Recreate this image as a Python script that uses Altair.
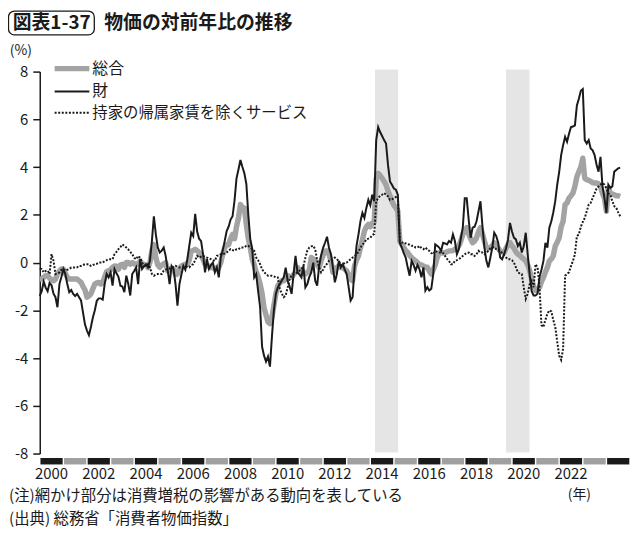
import altair as alt
import pandas as pd

FONT = "Noto Sans CJK JP"
BLACK = "#1a1a1a"
GRAY = "#a3a3a3"
BAR_GRAY = "#a0a0a0"
BAND = "#e5e5e5"

# ---- data (monthly y/y %, Jan 2000 - Aug 2024) ----
sogo = [  # 総合
    -0.69, -0.69, -0.62, -0.55, -0.55, -0.65, -0.72, -0.76, -0.70, -0.48, -0.35, -0.27,  # 2000
    -0.27, -0.45, -0.62, -0.69, -0.69, -0.69, -0.69, -0.69, -0.76, -0.83, -1.00, -1.15,  # 2001
    -1.45, -1.40, -1.31, -1.10, -0.90, -0.85, -0.83, -0.90, -0.85, -0.60, -0.38, -0.34,  # 2002
    -0.30, -0.20, -0.14, -0.15, -0.28, -0.10, -0.07, -0.20, 0.00, 0.00, -0.07, 0.00,     # 2003
    -0.05, -0.07, -0.07, 0.07, -0.07, -0.07, -0.10, -0.21, 0.00, 0.50, 0.75, 0.21,       # 2004
    -0.10, -0.20, -0.10, -0.05, 0.00, -0.35, -0.27, -0.27, -0.27, -0.50, -0.48, -0.27,   # 2005
    -0.14, -0.10, -0.07, -0.07, 0.10, 0.49, 0.50, 0.56, 0.50, 0.42, 0.30, 0.14,          # 2006
    -0.07, -0.14, -0.14, -0.21, -0.21, -0.27, -0.21, -0.21, 0.00, 0.35, 0.63, 0.75,      # 2007
    0.75, 1.00, 1.18, 1.00, 1.50, 1.87, 2.43, 2.30, 2.29, 1.60, 1.00, 0.63,              # 2008
    0.14, -0.10, -0.40, -0.60, -0.90, -1.30, -1.90, -2.20, -2.49, -2.56, -2.30, -1.80,   # 2009
    -1.31, -0.97, -0.85, -0.76, -0.76, -0.70, -0.55, -0.60, -0.62, -0.50, -0.41, -0.21,  # 2010
    -0.30, -0.41, -0.45, -0.48, -0.40, -0.34, 0.21, 0.15, 0.07, -0.10, -0.21, 0.07,      # 2011
    0.30, 0.49, 0.49, 0.35, 0.07, -0.41, -0.34, -0.20, -0.14, -0.21, -0.20, -0.28,       # 2012
    -0.35, -0.50, -0.70, -0.76, -0.14, 0.10, 0.28, 0.63, 0.95, 1.32, 1.50, 1.60,         # 2013
    1.50, 1.66, 1.70, 3.50, 3.74, 3.65, 3.53, 3.40, 3.26, 3.00, 2.80, 2.57,              # 2014
    2.40, 2.29, 2.15, 0.90, 0.75, 0.63, 0.50, 0.42, 0.30, 0.21, 0.14, 0.07,              # 2015
    0.00, -0.07, -0.10, -0.14, -0.20, -0.20, -0.35, -0.48, -0.30, -0.10, 0.21, 0.40,     # 2016
    0.42, 0.40, 0.42, 0.45, 0.49, 0.49, 0.50, 0.56, 0.60, 0.70, 0.90, 1.18,              # 2017
    1.35, 1.46, 1.20, 1.00, 0.83, 0.90, 1.04, 1.30, 1.46, 1.20, 0.90, 0.63,              # 2018
    0.60, 0.63, 0.70, 0.83, 0.70, 0.60, 0.49, 0.45, 0.42, 0.60, 0.75, 0.83,              # 2019
    0.70, 0.60, 0.45, 0.35, 0.30, 0.21, 0.15, 0.07, -0.10, -0.34, -0.70, -1.00,          # 2020
    -1.17, -1.15, -1.04, -0.80, -0.62, -0.40, -0.20, 0.07, 0.15, 0.28, 0.69, 0.85,       # 2021
    1.04, 1.50, 1.73, 2.43, 2.50, 2.70, 2.80, 2.91, 3.20, 3.60, 3.81, 4.00,              # 2022
    4.37, 3.53, 3.47, 3.45, 3.40, 3.35, 3.33, 3.33, 3.30, 3.19, 2.90, 2.70,              # 2023
    2.15, 3.12, 2.91, 2.87, 2.84, 2.80, 2.80, 2.77,                                      # 2024
]

zai = [  # 財
    -1.40, -1.20, -0.80, -1.05, -1.20, -0.85, -0.95, -1.30, -1.45, -1.87, -0.90, -0.60,  # 2000
    -0.27, -0.48, -0.90, -1.24, -1.15, -1.31, -1.40, -1.31, -1.45, -1.59, -2.10, -2.60,  # 2001
    -2.85, -3.04, -2.70, -2.30, -2.00, -1.60, -1.50, -1.50, -1.55, -0.90, -0.48, -0.62,  # 2002
    -0.41, -0.97, -0.27, -0.45, -0.60, -0.97, -1.00, -1.24, -0.55, -0.90, -1.38, -0.48,  # 2003
    -0.35, -0.20, -0.90, 0.14, -0.27, -0.15, -0.07, -0.20, 0.07, 0.90, 1.94, 1.18,       # 2004
    0.63, 0.42, 0.50, 0.63, 0.28, -0.30, -0.90, -0.14, -0.27, -0.90, -1.80, -0.90,       # 2005
    -0.50, -0.14, -0.30, 0.14, 0.70, 1.25, 1.11, 2.04, 1.30, 1.00, 0.90, 0.35,           # 2006
    -0.41, 0.14, -0.27, -0.10, 0.00, -0.41, -0.20, -0.62, 0.21, 0.50, 0.90, 1.32,        # 2007
    1.50, 1.80, 1.94, 2.60, 3.53, 3.90, 4.30, 4.00, 3.74, 3.30, 2.00, 0.97,              # 2008
    0.56, -0.62, -0.48, -1.20, -1.87, -3.53, -3.90, -4.15, -3.94, -4.36, -3.11, -2.00,   # 2009
    -1.30, -1.04, -0.90, -0.75, -0.62, -0.21, -0.76, -1.00, -1.31, -0.48, 0.28, -0.41,   # 2010
    -0.50, -0.62, -0.14, -1.04, -0.90, -0.60, -0.41, 0.00, -0.76, -0.97, -0.14, 0.30,    # 2011
    0.62, 0.83, 1.08, 0.62, 0.35, -0.20, -0.83, -0.48, 0.07, -0.20, -0.07, -0.30,        # 2012
    -0.48, -1.03, -1.59, -1.45, -0.20, 0.70, 1.18, 1.73, 2.08, 1.87, 2.29, 2.63,         # 2013
    2.40, 2.84, 2.57, 5.13, 5.68, 5.47, 5.30, 5.13, 4.99, 4.09, 3.40, 3.26,              # 2014
    3.10, 3.05, 2.84, 0.83, 0.63, 0.40, 0.21, -0.20, -0.55, 0.07, -0.10, -0.34,          # 2015
    -0.10, -0.28, -0.62, -0.20, -1.17, -1.03, -1.17, -1.10, -0.48, 0.76, 0.70, 0.63,     # 2016
    0.49, 0.83, 0.80, 0.76, 0.90, 0.83, 1.18, 0.90, 0.35, 0.56, 1.00, 1.46,              # 2017
    2.70, 2.70, 1.80, 1.04, 1.46, 1.50, 1.73, 2.15, 2.57, 1.53, 0.63, 0.07,              # 2018
    -0.20, 0.20, 0.63, 1.25, 1.11, 0.83, 0.21, 0.14, 0.35, 0.60, 0.97, 1.66,             # 2019
    1.30, 1.04, 0.97, 0.69, 0.83, 0.42, 0.69, 1.25, 0.35, -0.50, -1.20, -1.38,           # 2020
    -1.38, -1.30, -0.60, -0.30, 0.07, 0.83, 0.63, 1.46, 1.73, 2.10, 2.57, 3.26,          # 2021
    3.80, 4.50, 4.92, 5.27, 5.06, 5.40, 5.68, 5.70, 5.75, 6.58, 6.86, 7.20,              # 2022
    7.27, 5.13, 4.99, 5.13, 4.78, 4.70, 4.50, 4.10, 3.81, 4.43, 3.20, 2.70,              # 2023
    2.08, 3.26, 3.12, 3.19, 3.81, 3.88, 3.95, 3.98,                                      # 2024
]

svc = [  # 持家の帰属家賃を除くサービス
    -0.27, -0.27, -0.41, -0.35, -0.34, -0.48, 0.35, 0.07, -0.48, -0.45, -0.41, -0.30,    # 2000
    -0.27, -0.34, -0.30, -0.27, -0.21, -0.21, -0.21, -0.20, -0.14, -0.14, -0.10, -0.07,  # 2001
    -0.07, -0.07, -0.14, -0.10, -0.07, -0.05, 0.00, 0.00, 0.00, 0.07, 0.10, 0.14,        # 2002
    0.14, 0.14, 0.35, 0.45, 0.56, 0.65, 0.76, 0.70, 0.63, 0.55, 0.45, 0.35,              # 2003
    0.20, 0.14, 0.28, 0.20, 0.00, -0.14, -0.14, -0.07, -0.20, -0.48, -0.55, -0.50,       # 2004
    -0.48, -0.48, -0.48, -0.34, -0.30, -0.27, -0.25, -0.21, -0.18, -0.14, -0.18, -0.21,  # 2005
    -0.21, -0.21, -0.20, -0.18, -0.20, -0.10, -0.07, 0.10, 0.28, 0.21, 0.25, 0.28,       # 2006
    0.25, 0.21, 0.18, 0.14, 0.10, 0.07, 0.28, 0.30, 0.35, 0.35, 0.38, 0.42,              # 2007
    0.50, 0.56, 0.52, 0.49, 0.56, 0.56, 0.63, 0.63, 0.63, 0.70, 0.70, 0.63,              # 2008
    0.55, 0.49, 0.21, 0.10, -0.07, -0.28, -0.40, -0.48, -0.55, -0.55, -0.55, -0.58,      # 2009
    -0.62, -0.62, -1.10, -1.30, -1.45, -1.38, -1.04, -0.69, -0.55, -0.48, -0.45, -0.41,  # 2010
    -0.34, -0.28, -0.15, 0.20, 0.50, 0.63, 0.68, 0.70, 0.55, 0.10, -0.20, -0.41,         # 2011
    -0.30, -0.14, -0.05, 0.07, 0.10, 0.14, 0.21, 0.14, 0.07, -0.12, -0.10, 0.00,         # 2012
    0.00, 0.07, 0.14, 0.21, 0.25, 0.35, 0.45, 0.63, 0.75, 0.83, 0.97, 1.00,              # 2013
    1.04, 1.15, 1.20, 2.57, 2.70, 2.80, 2.84, 2.91, 2.85, 2.77, 2.63, 2.65,              # 2014
    2.70, 2.75, 2.77, 0.90, 0.83, 0.85, 0.80, 0.77, 0.75, 0.70, 0.70, 0.63,              # 2015
    0.63, 0.70, 0.60, 0.56, 0.63, 0.55, 0.49, 0.40, 0.35, 0.49, 0.45, 0.42,              # 2016
    0.42, 0.40, 0.28, 0.15, 0.07, -0.07, -0.07, 0.07, 0.10, 0.14, 0.21, 0.28,            # 2017
    0.35, 0.40, 0.42, 0.35, 0.35, 0.28, 0.35, 0.49, 0.42, 0.42, 0.35, 0.40,              # 2018
    0.50, 0.60, 0.63, 0.65, 0.56, 0.50, 0.49, 0.40, 0.30, 0.21, 0.14, 0.14,              # 2019
    0.10, 0.00, -0.20, -0.41, -0.45, -0.48, -1.04, -1.52, -1.30, -0.90, -0.76, -1.03,    # 2020
    -0.07, -0.20, -1.00, -2.63, -2.70, -2.40, -2.14, -2.00, -2.05, -2.40, -2.70, -3.30,  # 2021
    -3.90, -4.08, -3.60, -0.55, -0.48, -0.40, -0.15, 0.07, 0.35, 1.11, 1.18, 1.50,       # 2022
    1.70, 1.87, 2.15, 2.43, 2.50, 2.70, 2.90, 3.10, 3.19, 3.26, 3.33, 3.26,              # 2023
    3.10, 2.90, 2.84, 2.57, 2.36, 2.30, 2.10, 1.94,                                      # 2024
]

band_start = [2014.2, 2019.75]   # 消費増税の影響期間
band_end = [2015.18, 2020.74]
bar_years = list(range(2000, 2025))
label_years = list(range(2000, 2023, 2))
y_ticks = [-8, -6, -4, -2, 0, 2, 4, 6, 8]
legend_labels = ["総合", "財", "持家の帰属家賃を除くサービス"]
title_tag = "図表1-37"
title_text = "物価の対前年比の推移"
note1 = "(注)網かけ部分は消費増税の影響がある動向を表している"
note2 = "(出典) 総務省「消費者物価指数」"

# ---- tables ----
n = len(sogo)
df = pd.DataFrame({
    "t": [2000 + i / 12 for i in range(n)],
    "sogo": sogo,
    "zai": zai,
    "svc": svc,
})
bands = pd.DataFrame({"s": band_start, "e": band_end})
bars = pd.DataFrame({
    "ys": [y + 0.03 for y in bar_years],
    "ye": [y + 0.97 for y in bar_years],
    "shade": ["k" if y % 2 == 0 else "g" for y in bar_years],
})
ylabels = pd.DataFrame({"yc": [y + 0.5 for y in label_years],
                        "lab": [str(y) for y in label_years]})

xscale = alt.Scale(domain=[2000, 2025], nice=False, zero=False)
yscale = alt.Scale(domain=[-8, 8], nice=False, zero=False)
yaxis = alt.Axis(values=y_ticks, title=None, grid=False, domainColor=BLACK,
                 domainWidth=1.5, tickColor=BLACK, tickWidth=1.5, tickSize=7,
                 labelFont=FONT, labelFontSize=15, labelColor=BLACK,
                 labelPadding=5, labelExpr="datum.value + ''")


def ycol(field):
    return alt.Y(f"{field}:Q", scale=yscale, axis=yaxis)


X = alt.X("t:Q", scale=xscale, axis=None)

band_layer = alt.Chart(bands).mark_rect(color=BAND).encode(
    x=alt.X("s:Q", scale=xscale, axis=None), x2="e:Q",
    y=alt.value(-2), y2=alt.value(384))

bar_layer = alt.Chart(bars).mark_rect().encode(
    x=alt.X("ys:Q", scale=xscale, axis=None), x2="ye:Q",
    y=alt.value(389.5), y2=alt.value(396),
    color=alt.Color("shade:N", scale=alt.Scale(domain=["k", "g"], range=[BLACK, BAR_GRAY]), legend=None))

year_text = alt.Chart(ylabels).mark_text(font=FONT, fontSize=15, color=BLACK, baseline="middle").encode(
    x=alt.X("yc:Q", scale=xscale, axis=None), y=alt.value(405.5), text="lab:N")

gray_line = alt.Chart(df).mark_line(color=GRAY, strokeWidth=5.5, strokeJoin="round").encode(x=X, y=ycol("sogo"))
dot_line = alt.Chart(df).mark_line(color=BLACK, strokeWidth=2.0, strokeDash=[2, 1.6]).encode(x=X, y=ycol("svc"))
black_line = alt.Chart(df).mark_line(color=BLACK, strokeWidth=2.0).encode(x=X, y=ycol("zai"))


def one(text):
    return pd.DataFrame({"label": [text]})


def txt(text, x, y, size=16, align="left", weight="normal"):
    return alt.Chart(one(text)).mark_text(font=FONT, fontSize=size, align=align, baseline="middle",
                                          fontWeight=weight, color=BLACK).encode(
        x=alt.value(x), y=alt.value(y), text="label:N")


leg1 = alt.Chart(one(legend_labels[0])).mark_rule(color=GRAY, strokeWidth=5.5).encode(
    x=alt.value(15), x2=alt.value(50), y=alt.value(-3))
leg2 = alt.Chart(one(legend_labels[1])).mark_rule(color=BLACK, strokeWidth=2.0).encode(
    x=alt.value(15), x2=alt.value(50), y=alt.value(20))
leg3 = alt.Chart(one(legend_labels[2])).mark_rule(color=BLACK, strokeWidth=2.0, strokeDash=[2, 1.6]).encode(
    x=alt.value(15), x2=alt.value(50), y=alt.value(41.5))

tag_box = alt.Chart(one(title_tag)).mark_rect(fill="white", stroke=BLACK, strokeWidth=1.3, cornerRadius=6).encode(
    x=alt.value(-31.5), x2=alt.value(55), y=alt.value(-61), y2=alt.value(-37))

chart = alt.layer(
    band_layer, bar_layer, year_text,
    gray_line, dot_line, black_line,
    leg1, leg2, leg3,
    txt(legend_labels[0], 53, -3), txt(legend_labels[1], 53, 20), txt(legend_labels[2], 53, 41.5, size=15.5),
    tag_box,
    txt(title_tag, 12, -49, size=19, align="center", weight="bold"),
    txt(title_text, 65, -49, size=19, weight="bold"),
    txt("(%)", -19, -21, size=14, align="center"),
    txt("(年)", 544, 427, size=14, align="center"),
    txt(note1, -31, 428, size=15.5),
    txt(note2, -31, 451.5, size=15.5),
).properties(
    width=595, height=385,
    autosize=alt.AutoSizeParams(type="none"),
    padding={"left": 32, "top": 62, "right": 2, "bottom": 80},
).configure_view(stroke=None)

chart.save("out.html", embed_options={"renderer": "svg", "actions": False})
